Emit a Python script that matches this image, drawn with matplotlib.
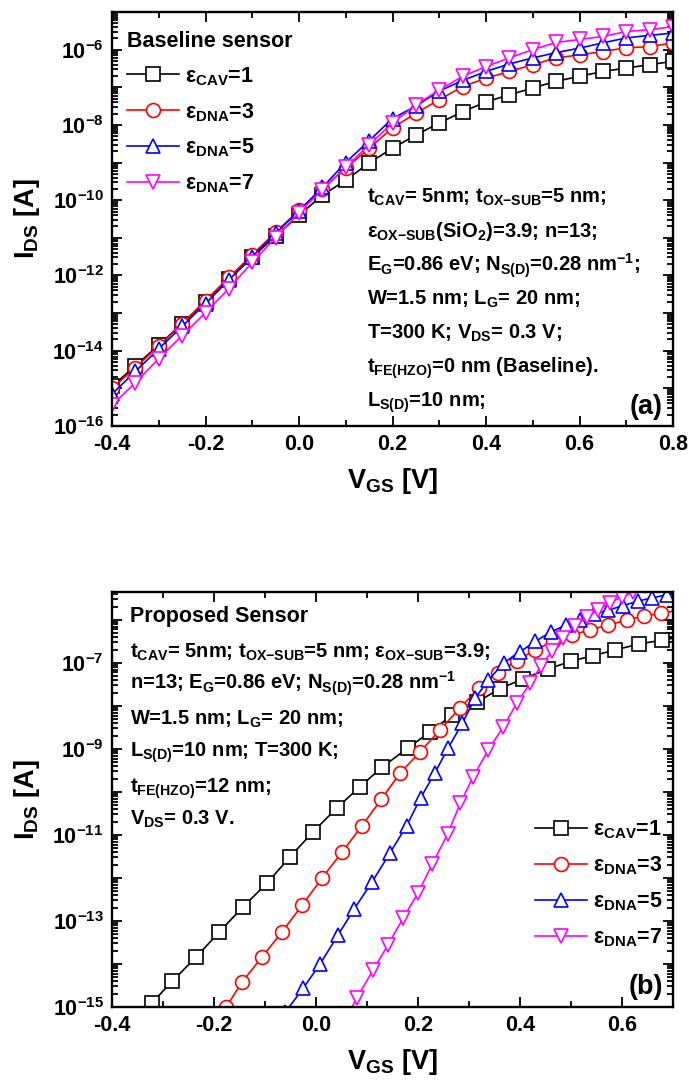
import numpy as np
import matplotlib
matplotlib.use("Agg")
import matplotlib.pyplot as plt
from matplotlib.ticker import LogLocator, MultipleLocator, FuncFormatter, NullFormatter, FormatStrFormatter

plt.rcParams['font.family'] = ['Liberation Sans', 'DejaVu Sans']
plt.rcParams['font.weight'] = 'bold'
plt.rcParams['axes.labelweight'] = 'bold'
plt.rcParams['mathtext.default'] = 'regular'
plt.rcParams['axes.unicode_minus'] = False

# ---- (a) baseline sensor: log10(I_DS [A]) ----
vgs_a = [-0.40, -0.35, -0.30, -0.25, -0.20, -0.15, -0.10, -0.05, 0.00, 0.05, 0.10, 0.15,
         0.20, 0.25, 0.30, 0.35, 0.40, 0.45, 0.50, 0.55, 0.60, 0.65, 0.70, 0.75, 0.80]
a_eps1 = [-14.95, -14.40, -13.85, -13.28, -12.70, -12.10, -11.52, -10.95, -10.40, -9.87, -9.47, -9.01,
          -8.62, -8.27, -7.95, -7.65, -7.39, -7.20, -7.02, -6.84, -6.71, -6.58, -6.49, -6.40, -6.31]
a_eps3 = [-15.00, -14.45, -13.87, -13.28, -12.67, -12.05, -11.45, -10.85, -10.27, -9.70, -9.15, -8.62,
          -8.08, -7.69, -7.33, -6.98, -6.76, -6.58, -6.40, -6.22, -6.14, -6.05, -5.95, -5.92, -5.82]
a_eps5 = [-15.15, -14.55, -13.95, -13.35, -12.75, -12.12, -11.50, -10.88, -10.28, -9.66, -9.00, -8.42,
          -7.83, -7.50, -7.10, -6.82, -6.58, -6.38, -6.22, -6.08, -5.96, -5.82, -5.69, -5.62, -5.56]
a_eps7 = [-15.45, -14.85, -14.21, -13.60, -12.99, -12.35, -11.65, -11.00, -10.33, -9.72, -9.12, -8.53,
          -7.95, -7.47, -7.07, -6.71, -6.45, -6.22, -6.00, -5.81, -5.73, -5.65, -5.52, -5.47, -5.39]

# ---- (b) proposed sensor (t_FE = 12 nm) ----
b_vgs1 = [-0.362, -0.322, -0.282, -0.235, -0.190, -0.143, -0.096, -0.051, -0.006, 0.041, 0.086, 0.130,
          0.180, 0.224, 0.267, 0.316, 0.360, 0.406, 0.455, 0.500, 0.543, 0.586, 0.633, 0.678, 0.722]
b_eps1 = [-15.45, -14.91, -14.40, -13.84, -13.26, -12.67, -12.12, -11.51, -10.93, -10.37, -9.88, -9.42,
          -8.98, -8.60, -8.21, -7.91, -7.60, -7.37, -7.14, -6.96, -6.83, -6.70, -6.56, -6.47, -6.38]
b_vgs3 = [-0.215, -0.176, -0.145, -0.106, -0.067, -0.027, 0.012, 0.051, 0.090, 0.128, 0.165, 0.204,
          0.243, 0.282, 0.320, 0.356, 0.394, 0.429, 0.465, 0.502, 0.537, 0.573, 0.610, 0.643, 0.677, 0.711]
b_eps3 = [-15.55, -15.00, -14.42, -13.84, -13.26, -12.63, -12.00, -11.40, -10.79, -10.17, -9.56, -9.07,
          -8.56, -8.05, -7.58, -7.23, -6.95, -6.70, -6.50, -6.35, -6.23, -6.12, -6.00, -5.91, -5.84, -5.78]
b_vgs5 = [-0.060, -0.025, 0.008, 0.043, 0.075, 0.110, 0.145, 0.178, 0.205, 0.233, 0.259, 0.287,
          0.312, 0.338, 0.368, 0.400, 0.430, 0.460, 0.490, 0.518, 0.545, 0.573, 0.602, 0.631, 0.659, 0.688]
b_eps5 = [-15.12, -14.56, -14.00, -13.33, -12.72, -12.09, -11.42, -10.78, -10.14, -9.56, -8.98, -8.40,
          -7.82, -7.40, -7.00, -6.74, -6.50, -6.28, -6.12, -5.99, -5.87, -5.77, -5.67, -5.56, -5.49, -5.41]
b_vgs7 = [0.045, 0.080, 0.112, 0.141, 0.171, 0.200, 0.228, 0.258, 0.283, 0.308, 0.338, 0.367,
          0.394, 0.420, 0.441, 0.463, 0.484, 0.508, 0.531, 0.553, 0.576, 0.600, 0.622, 0.645]
b_eps7 = [-15.60, -14.79, -14.14, -13.56, -12.93, -12.35, -11.68, -10.98, -10.26, -9.65, -9.02, -8.49,
          -7.93, -7.47, -7.07, -6.72, -6.42, -6.14, -5.93, -5.77, -5.60, -5.46, -5.35, -5.22]

labels = ['ε$_{CAV}$=1', 'ε$_{DNA}$=3', 'ε$_{DNA}$=5', 'ε$_{DNA}$=7']
colors = ['black', 'red', 'blue', 'magenta']
markers = ['s', 'o', '^', 'v']
msizes = [9.5, 10, 10, 10]

W, H = 689, 1086


def px(x, y):
    # figure pixel position (from top-left) -> figure fraction
    return x / W, 1 - y / H


def style_axes(ax, xlim, ylim, odd):
    ax.set_yscale('log')
    ax.set_xlim(xlim)
    ax.set_ylim(ylim)
    ax.xaxis.set_major_locator(MultipleLocator(0.2))
    ax.xaxis.set_minor_locator(MultipleLocator(0.1))
    ax.xaxis.set_major_formatter(FormatStrFormatter('%.1f'))
    ax.yaxis.set_major_locator(LogLocator(base=10, numticks=30))
    ax.yaxis.set_minor_locator(LogLocator(base=10, subs=np.arange(2, 10), numticks=30))
    ax.yaxis.set_minor_formatter(NullFormatter())

    def fmt(v, pos):
        e = int(round(np.log10(v)))
        if e % 2 == (1 if odd else 0):
            return r'$10^{%d}$' % e
        return ''
    ax.yaxis.set_major_formatter(FuncFormatter(fmt))
    ax.tick_params(which='both', direction='in', top=True, right=True, width=1.3)
    ax.tick_params(which='major', length=7, labelsize=15.5, pad=6)
    ax.tick_params(which='minor', length=4)
    for s in ax.spines.values():
        s.set_linewidth(1.7)
    ax.set_xlabel('V$_{GS}$ [V]', fontsize=19.5, labelpad=8)
    ax.set_ylabel('I$_{DS}$ [A]', fontsize=19.5)
    ax.yaxis.set_label_coords(-0.125, 0.5)


fig = plt.figure(figsize=(W / 100, H / 100), dpi=100)
ax_a = fig.add_axes([112 / W, 1 - 426 / H, 561 / W, 414 / H])
ax_b = fig.add_axes([112 / W, 1 - 1007 / H, 561 / W, 415 / H])

# panel (a)
for ys, c, m, ms, lab in zip([a_eps1, a_eps3, a_eps5, a_eps7], colors, markers, msizes, labels):
    ax_a.plot(vgs_a, np.power(10.0, ys), color=c, marker=m, ms=ms, mfc='white', mec=c,
              mew=1.2, lw=1.2, label=lab)
style_axes(ax_a, (-0.4, 0.8), (1e-16, 1e-5), odd=False)
ax_a.legend(loc='upper left', bbox_to_anchor=(0.027, 0.955), frameon=False,
            title='Baseline sensor', title_fontproperties={'weight': 'bold', 'size': 15.5},
            alignment='left', fontsize=15.5, handlelength=2.4, handletextpad=0.3,
            labelspacing=0.62, borderpad=0, borderaxespad=0)

lines_a = ['t$_{CAV}$= 5nm; t$_{OX{-}SUB}$=5 nm;',
           'ε$_{OX{-}SUB}$(SiO$_2$)=3.9; n=13;',
           'E$_G$=0.86 eV; N$_{S(D)}$=0.28 nm$^{-1}$;',
           'W=1.5 nm; L$_G$= 20 nm;',
           'T=300 K; V$_{DS}$= 0.3 V;',
           't$_{FE(HZO)}$=0 nm (Baseline).',
           'L$_{S(D)}$=10 nm;']
for i, s in enumerate(lines_a):
    fig.text(*px(367, 203 + 34 * i), s, fontsize=14.5, va='baseline', ha='left')
fig.text(*px(663, 414), '(a)', fontsize=19.5, ha='right', va='baseline')

# panel (b)
for xs, ys, c, m, ms, lab in zip([b_vgs1, b_vgs3, b_vgs5, b_vgs7], [b_eps1, b_eps3, b_eps5, b_eps7],
                                 colors, markers, msizes, labels):
    ax_b.plot(xs, np.power(10.0, ys), color=c, marker=m, ms=ms, mfc='white', mec=c,
              mew=1.2, lw=1.2, label=lab)
style_axes(ax_b, (-0.4, 0.7), (1e-15, 10 ** -5.35), odd=True)
ax_b.legend(loc='lower left', bbox_to_anchor=(0.754, 0.14), frameon=False,
            fontsize=15.5, handlelength=2.4, handletextpad=0.3,
            labelspacing=0.62, borderpad=0, borderaxespad=0)

fig.text(*px(130, 622), 'Proposed Sensor', fontsize=15.5, va='baseline', ha='left')
lines_b = ['t$_{CAV}$= 5nm; t$_{OX{-}SUB}$=5 nm; ε$_{OX{-}SUB}$=3.9;',
           'n=13; E$_G$=0.86 eV; N$_{S(D)}$=0.28 nm$^{-1}$',
           'W=1.5 nm; L$_G$= 20 nm;',
           'L$_{S(D)}$=10 nm; T=300 K;',
           't$_{FE(HZO)}$=12 nm;',
           'V$_{DS}$= 0.3 V.']
ys_b = [658, 689, 725, 757, 793, 825]
for s, yy in zip(lines_b, ys_b):
    fig.text(*px(130, yy), s, fontsize=14.5, va='baseline', ha='left')
fig.text(*px(663, 994), '(b)', fontsize=19.5, ha='right', va='baseline')

fig.savefig('out.png', dpi=100)
